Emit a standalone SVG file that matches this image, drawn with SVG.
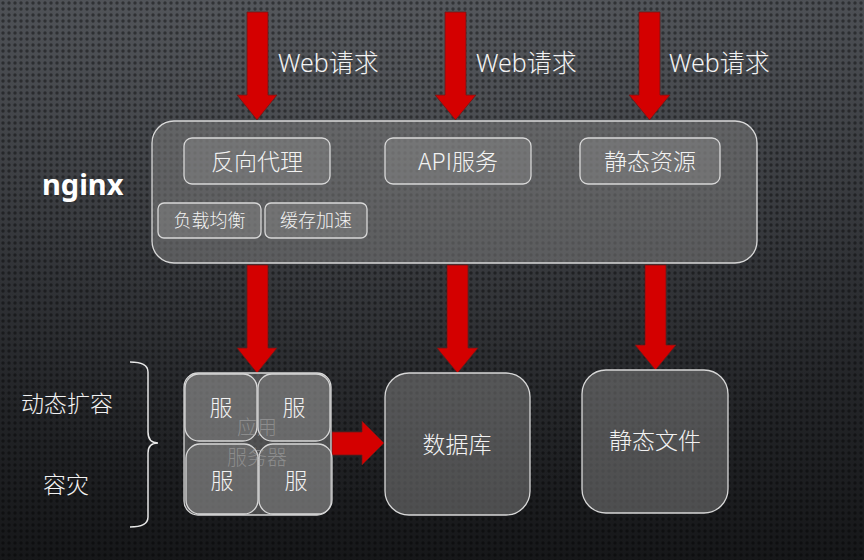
<svg xmlns="http://www.w3.org/2000/svg" width="864" height="560" viewBox="0 0 864 560">
<defs>
<linearGradient id="bg" x1="0" y1="0" x2="0" y2="1">
<stop offset="0" stop-color="#4a4d52"/>
<stop offset="0.5" stop-color="#2c2e32"/>
<stop offset="1" stop-color="#161719"/>
</linearGradient>
<pattern id="dots" width="6" height="6" patternUnits="userSpaceOnUse">
<circle cx="3" cy="3" r="1.7" fill="#000" fill-opacity="0.4"/>
</pattern>
<radialGradient id="glow" cx="0.45" cy="0.2" r="0.7">
<stop offset="0" stop-color="#ffffff" stop-opacity="0.08"/>
<stop offset="1" stop-color="#ffffff" stop-opacity="0"/>
</radialGradient>
</defs>
<style>
.box{fill:#7a7a7a;fill-opacity:0.55;stroke:#d8d8d8;stroke-width:1.3}
.sub{fill:#8a8a8a;fill-opacity:0.45;stroke:#d8d8d8;stroke-width:1.3}
.arrow{fill:#d40000;stroke:#6a1a1a;stroke-width:0.8}
.t{font-family:"Noto Sans CJK SC","Noto Sans",sans-serif;font-weight:300;fill:#f2f2f2;text-anchor:middle}
.faint{fill:#b0b0b0;fill-opacity:0.5}
.web{font-family:"Noto Sans","Noto Sans CJK SC",sans-serif;font-weight:300;fill:#f2f2f2;font-size:25px}
</style>
<rect width="864" height="560" fill="url(#bg)"/>
<rect width="864" height="560" fill="url(#glow)"/>
<rect width="864" height="560" fill="url(#dots)"/>

<g id="connectors">
<polygon class="arrow" points="247,12 268,12 268,95 277,95 257,120 237,95 247,95"/>
<polygon class="arrow" points="445,12 466,12 466,95 476,95 455.5,120 435,95 445,95"/>
<polygon class="arrow" points="639,12 660,12 660,95 670,95 649.5,120 629,95 639,95"/>
<polygon class="arrow" points="247,265 268,265 268,348 277,348 257,373 237,348 247,348"/>
<polygon class="arrow" points="447,265 468,265 468,348 478,348 457.5,373 437,348 447,348"/>
<polygon class="arrow" points="645,265 666,265 666,345 676,345 655.5,370 635,345 645,345"/>
<polygon class="arrow" points="332,432 362,432 362,421 384,443 362,465 362,455 332,455"/>
<path d="M130,362 Q148,362 148,372 V432 Q148,443 158,443 Q148,443 148,453 V517 Q148,527 130,527" fill="none" stroke="#e8e8e8" stroke-width="1.5"/>
</g>

<g id="web-labels">
<text class="web" x="278" y="72">Web请求</text>
<text class="web" x="476" y="72">Web请求</text>
<text class="web" x="669" y="72">Web请求</text>
</g>

<g id="nginx">
<rect class="box" x="152" y="121" width="605" height="142" rx="22"/>
<text x="42" y="195" font-family="'Noto Sans','Liberation Sans',sans-serif" font-weight="bold" font-size="29" fill="#ffffff">nginx</text>
</g>
<g id="reverse-proxy">
<rect class="sub" x="184" y="138" width="146" height="46" rx="8"/>
<text class="t" x="257" y="170" font-size="23">反向代理</text>
</g>
<g id="api-service">
<rect class="sub" x="385" y="138" width="146" height="46" rx="8"/>
<text class="t" x="458" y="170" font-size="23">API服务</text>
</g>
<g id="static-resource">
<rect class="sub" x="580" y="138" width="140" height="46" rx="8"/>
<text class="t" x="650" y="170" font-size="23">静态资源</text>
</g>
<g id="load-balance">
<rect class="sub" x="158" y="203" width="103" height="35" rx="6"/>
<text class="t" x="209.5" y="227" font-size="18">负载均衡</text>
</g>
<g id="cache">
<rect class="sub" x="265" y="203" width="102" height="35" rx="6"/>
<text class="t" x="316" y="227" font-size="18">缓存加速</text>
</g>

<g id="app-server">
<rect class="sub" x="184" y="373" width="147" height="142" rx="14"/>
<rect class="sub" x="185" y="374" width="72" height="67" rx="14"/>
<rect class="sub" x="258" y="374" width="72" height="67" rx="14"/>
<rect class="sub" x="186" y="444" width="72" height="70" rx="14"/>
<rect class="sub" x="259" y="444" width="73" height="70" rx="14"/>
<text class="t" x="221" y="416" font-size="23">服</text>
<text class="t" x="294" y="416" font-size="23">服</text>
<text class="t" x="222" y="489" font-size="23">服</text>
<text class="t" x="296" y="489" font-size="23">服</text>
<text class="t faint" x="257" y="435" font-size="20">应用</text>
<text class="t faint" x="257" y="465" font-size="20">服务器</text>
</g>

<g id="database">
<rect class="box" x="385" y="373" width="145" height="142" rx="24"/>
<text class="t" x="457" y="453" font-size="23">数据库</text>
</g>
<g id="static-files">
<rect class="box" x="582" y="370" width="146" height="143" rx="24"/>
<text class="t" x="655" y="449" font-size="23">静态文件</text>
</g>

<g id="side-labels">
<text class="t" x="67" y="412" font-size="23">动态扩容</text>
<text class="t" x="66" y="493" font-size="23">容灾</text>
</g>
</svg>
